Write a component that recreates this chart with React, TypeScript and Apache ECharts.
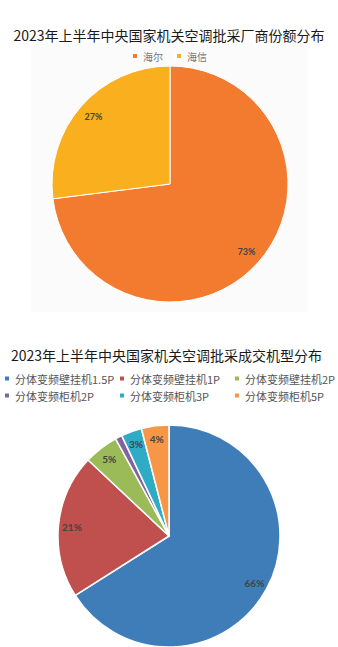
import React, { useEffect, useRef } from "react";
import * as echarts from "echarts";

const title1 = "2023年上半年中央国家机关空调批采厂商份额分布";
const title2 = "2023年上半年中央国家机关空调批采成交机型分布";

const brands = ["海尔", "海信"];
const brandShares = [73, 27];
const brandColors = ["#F37B30", "#F9AF1E"];

const models = [
  "分体变频壁挂机1.5P",
  "分体变频壁挂机1P",
  "分体变频壁挂机2P",
  "分体变频柜机2P",
  "分体变频柜机3P",
  "分体变频柜机5P",
];
const modelShares = [66, 21, 5, 1, 3, 4];
const modelColors = ["#3F7DB8", "#C0504D", "#9BBB59", "#8064A2", "#2FABC6", "#F79646"];

const FONT = '"Noto Sans CJK SC", "Noto Sans", sans-serif';

export default function App() {
  const ref = useRef<HTMLDivElement>(null);
  useEffect(() => {
    document.body.style.margin = "0";
    const chart = echarts.init(ref.current!, null, { renderer: "svg" });
    const brandData = brands.map((n, i) => ({ name: n, value: brandShares[i], itemStyle: { color: brandColors[i] } }));
    const modelData = models.map((n, i) => ({ name: n, value: modelShares[i], itemStyle: { color: modelColors[i] } }));
    const labelStyle = {
      show: true,
      position: "inside",
      formatter: "{c}%",
      color: "#444",
      fontWeight: "bold",
      fontFamily: "Lato, 'Noto Sans', sans-serif",
    };
    const legendText = { color: "#555", fontSize: 11, fontFamily: FONT };
    const colX = [3, 118, 233];
    const rowY = [373, 390];
    const modelLegends = models.map((m, i) => ({
      data: [m],
      left: colX[i % 3],
      top: rowY[Math.floor(i / 3)],
      icon: "rect",
      itemWidth: 6,
      itemHeight: 6,
      padding: 0,
      textStyle: legendText,
    }));
    chart.setOption({
      animation: false,
      backgroundColor: "#fff",
      graphic: [
        { type: "rect", z: -10, shape: { x: 31, y: 43, width: 276, height: 269 }, style: { fill: "#FBFBFB" } },
      ],
      title: [
        { text: title1, left: "center", top: 23, textStyle: { fontSize: 14, fontWeight: "normal", color: "#1a1a1a", fontFamily: FONT } },
        { text: title2, left: 6, top: 343, textStyle: { fontSize: 14, fontWeight: "normal", color: "#1a1a1a", fontFamily: FONT } },
      ],
      legend: [
        {
          data: brands,
          top: 46,
          left: "center",
          icon: "rect",
          itemWidth: 6,
          itemHeight: 6,
          itemGap: 12,
          textStyle: { ...legendText, color: "#777", fontSize: 10 },
        },
        ...modelLegends,
      ],
      series: [
        {
          type: "pie",
          center: [170, 184],
          radius: [0, 118],
          startAngle: 90,
          clockwise: true,
          data: brandData,
          label: { show: false },
          labelLine: { show: false },
          itemStyle: { borderColor: "#fff", borderWidth: 1 },
          emphasis: { disabled: true },
        },
        {
          type: "pie",
          center: [170, 184],
          radius: [80, 118],
          startAngle: 90,
          clockwise: true,
          silent: true,
          data: brandData.map((d) => ({ ...d, itemStyle: { color: "transparent" } })),
          label: { ...labelStyle, fontSize: 9 },
          labelLine: { show: false },
          itemStyle: { borderWidth: 0 },
          emphasis: { disabled: true },
        },
        {
          type: "pie",
          center: [169, 536],
          radius: [0, 111],
          startAngle: 90,
          clockwise: true,
          data: modelData,
          label: { show: false },
          labelLine: { show: false },
          itemStyle: { borderColor: "#fff", borderWidth: 1.5 },
          emphasis: { disabled: true },
        },
        {
          type: "pie",
          center: [169, 536],
          radius: [78, 111],
          startAngle: 90,
          clockwise: true,
          silent: true,
          data: modelData.map((d) => ({ ...d, itemStyle: { color: "transparent" } })),
          label: { ...labelStyle, fontSize: 10 },
          labelLine: { show: false },
          itemStyle: { borderWidth: 0 },
          emphasis: { disabled: true },
        },
      ],
    });
    return () => chart.dispose();
  }, []);
  return <div ref={ref} style={{ width: 338, height: 647 }} />;
}
